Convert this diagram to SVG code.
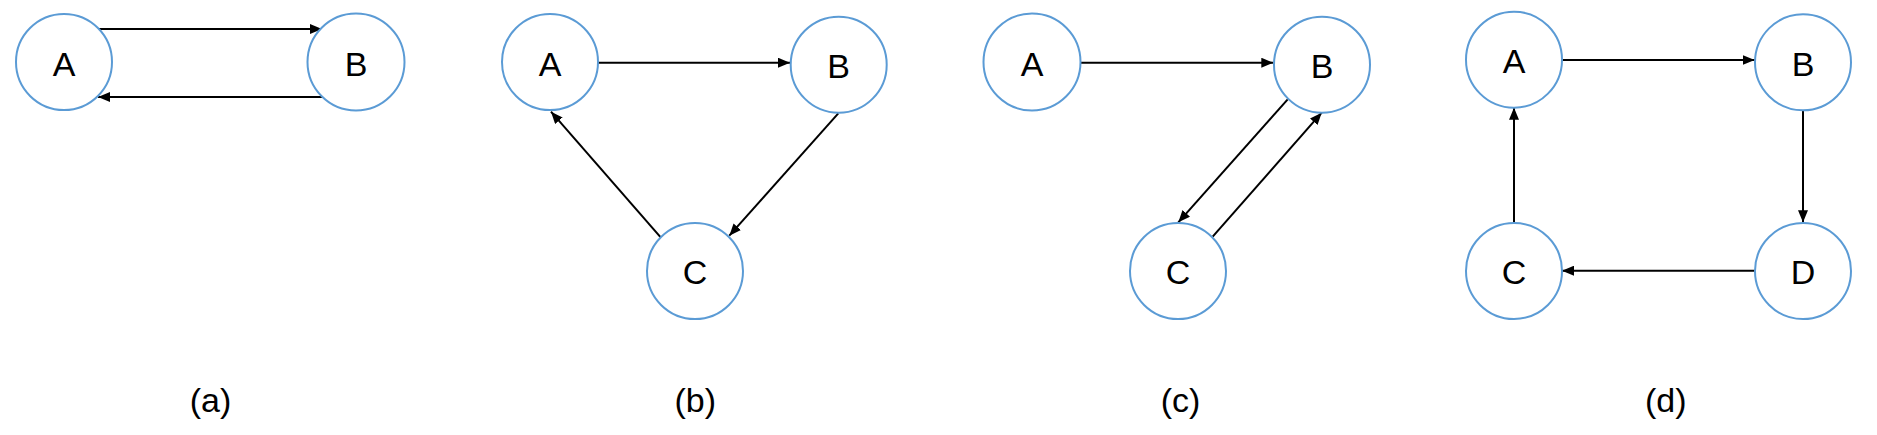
<svg xmlns="http://www.w3.org/2000/svg" width="1877" height="435" viewBox="0 0 1877 435">
<style>
.node circle{fill:#fff;stroke:#5B9BD5;stroke-width:2}
.node text{font-family:"Liberation Sans","Open Sans",sans-serif;font-size:34px;fill:#000;text-anchor:middle}
.cap{font-family:"Liberation Sans","Open Sans",sans-serif;font-size:34px;fill:#000;text-anchor:middle}
#connectors line{stroke:#000;stroke-width:2;marker-end:url(#arr)}
</style>
<defs>
<marker id="arr" markerUnits="userSpaceOnUse" markerWidth="12" markerHeight="10" refX="12" refY="5" orient="auto">
<path d="M0,0 L12,5 L0,10 z" fill="#000"/>
</marker>
</defs>
<rect width="1877" height="435" fill="#fff"/>
<g id="connectors">
<line x1="98" y1="29" x2="322" y2="29"/>
<line x1="322" y1="97" x2="98" y2="97"/>
<line x1="598" y1="62.7" x2="790" y2="62.7"/>
<line x1="838.3" y1="113.3" x2="729.3" y2="235.7"/>
<line x1="660.7" y1="237.3" x2="551" y2="111.7"/>
<line x1="1081" y1="62.7" x2="1273.3" y2="62.7"/>
<line x1="1287.7" y1="99.3" x2="1178.3" y2="222.3"/>
<line x1="1212.7" y1="236.7" x2="1321.7" y2="112.7"/>
<line x1="1562" y1="60" x2="1754.7" y2="60"/>
<line x1="1803" y1="110.7" x2="1803" y2="222.3"/>
<line x1="1754.7" y1="270.7" x2="1562" y2="270.7"/>
<line x1="1514" y1="222.7" x2="1514" y2="107.7"/>
</g>
<g id="a-A" class="node"><circle cx="64" cy="62" r="48"/><text x="64" y="75.5">A</text></g>
<g id="a-B" class="node"><circle cx="356" cy="62" r="48.5"/><text x="356" y="75.5">B</text></g>
<g id="b-A" class="node"><circle cx="550" cy="62" r="48"/><text x="550" y="75.5">A</text></g>
<g id="b-B" class="node"><circle cx="838.7" cy="64.7" r="48"/><text x="838.7" y="78">B</text></g>
<g id="b-C" class="node"><circle cx="695" cy="271" r="48"/><text x="695" y="284">C</text></g>
<g id="c-A" class="node"><circle cx="1032" cy="62" r="48.5"/><text x="1032" y="75.5">A</text></g>
<g id="c-B" class="node"><circle cx="1322" cy="64.7" r="48"/><text x="1322" y="78">B</text></g>
<g id="c-C" class="node"><circle cx="1178" cy="271" r="48"/><text x="1178" y="284">C</text></g>
<g id="d-A" class="node"><circle cx="1514" cy="59.7" r="48"/><text x="1514" y="73">A</text></g>
<g id="d-B" class="node"><circle cx="1803" cy="62.3" r="48"/><text x="1803" y="75.5">B</text></g>
<g id="d-C" class="node"><circle cx="1514" cy="271" r="48"/><text x="1514" y="284">C</text></g>
<g id="d-D" class="node"><circle cx="1803" cy="271" r="48"/><text x="1803" y="284">D</text></g>
<g id="captions">
<text class="cap" x="210.5" y="412">(a)</text>
<text class="cap" x="695.3" y="412">(b)</text>
<text class="cap" x="1180.5" y="412">(c)</text>
<text class="cap" x="1665.7" y="412">(d)</text>
</g>
</svg>
